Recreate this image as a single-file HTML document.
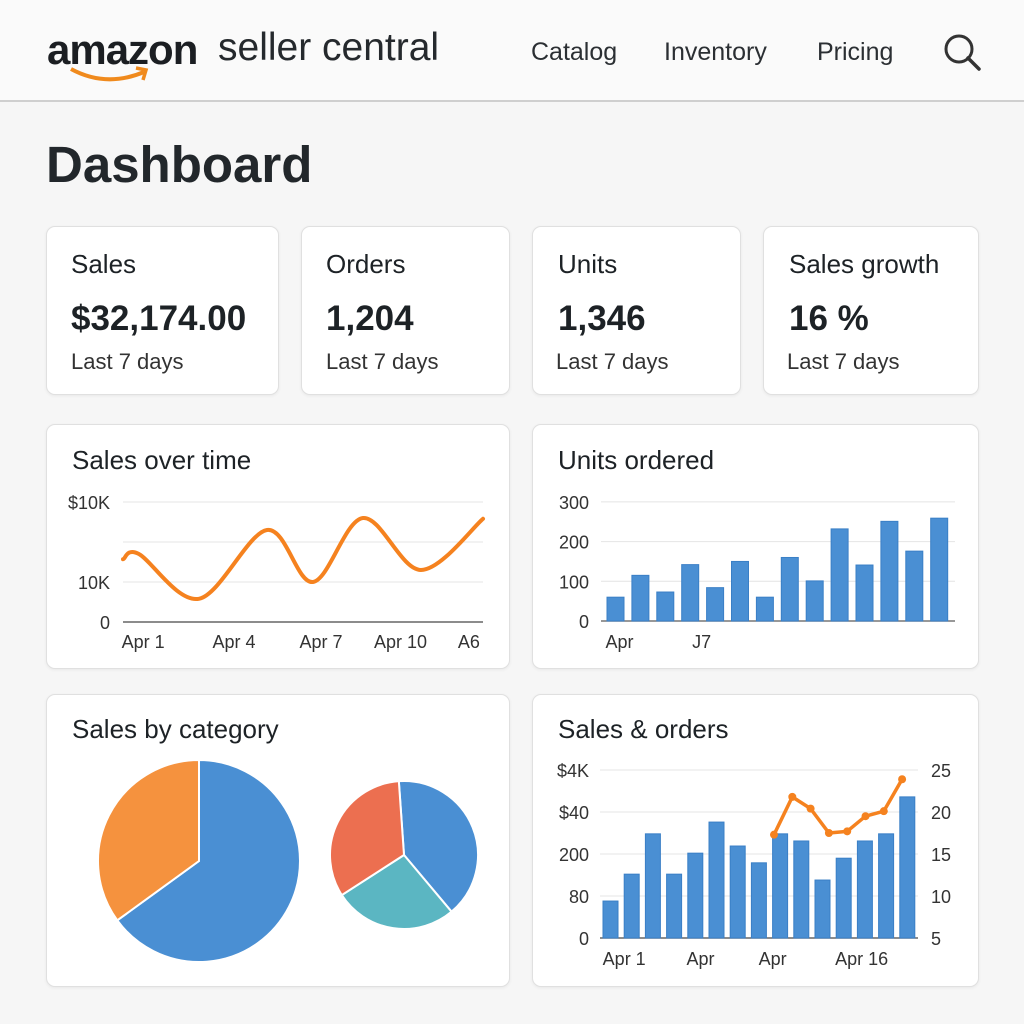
<!DOCTYPE html>
<html><head><meta charset="utf-8">
<style>
*{margin:0;padding:0;box-sizing:border-box}
body{width:1024px;height:1024px;background:#f6f6f6;font-family:"Liberation Sans","DejaVu Sans",sans-serif;color:#1d2226;position:relative;overflow:hidden}
.hdr{position:absolute;left:0;top:0;width:1024px;height:102px;background:#fafafa;border-bottom:2px solid #cfcfcf}
.abs{position:absolute;white-space:nowrap}
.card{position:absolute;background:#fff;border:1px solid #e0e0e0;border-radius:9px;box-shadow:0 1px 3px rgba(0,0,0,.06)}
.kt{font-size:26px;font-weight:500}
.kv{font-size:35px;font-weight:bold}
.kl{font-size:22px;color:#333}
svg text{font-family:"Liberation Sans","DejaVu Sans",sans-serif}
</style></head><body>
<div class="hdr">
  <div class="abs" style="left:47px;top:26px;font-size:42px;font-weight:bold;letter-spacing:-1px;color:#1b1e22">amazon</div>
  <svg class="abs" style="left:66px;top:62px" width="94" height="24"><path d="M5 7 Q40 26 78 10" stroke="#f08a1d" stroke-width="4" fill="none"/><path d="M70 6 L80 8 L77 18" stroke="#f08a1d" stroke-width="3.5" fill="none"/></svg>
  <div class="abs" style="left:218px;top:26px;font-size:39px;color:#25292d">seller central</div>
  <div class="abs" style="left:531px;top:38px;font-size:25px;color:#2b2f33">Catalog</div>
  <div class="abs" style="left:664px;top:38px;font-size:25px;color:#2b2f33">Inventory</div>
  <div class="abs" style="left:817px;top:38px;font-size:25px;color:#2b2f33">Pricing</div>
  <svg class="abs" style="left:940px;top:30px" width="46" height="46"><circle cx="19" cy="19" r="13" stroke="#333" stroke-width="3" fill="none"/><line x1="28" y1="28" x2="39" y2="39" stroke="#333" stroke-width="3.5" stroke-linecap="round"/></svg>
</div>
<div class="abs" style="left:46px;top:135px;font-size:51px;font-weight:bold;color:#22272b">Dashboard</div>

<div class="card" style="left:46px;top:226px;width:233px;height:169px">
  <div class="abs kt" style="left:24px;top:22px">Sales</div><div class="abs kv" style="left:24px;top:72px">$32,174.00</div><div class="abs kl" style="left:24px;top:122px">Last 7 days</div></div>
<div class="card" style="left:301px;top:226px;width:209px;height:169px">
  <div class="abs kt" style="left:24px;top:22px">Orders</div><div class="abs kv" style="left:24px;top:72px">1,204</div><div class="abs kl" style="left:24px;top:122px">Last 7 days</div></div>
<div class="card" style="left:532px;top:226px;width:209px;height:169px">
  <div class="abs kt" style="left:25px;top:22px">Units</div><div class="abs kv" style="left:25px;top:72px">1,346</div><div class="abs kl" style="left:23px;top:122px">Last 7 days</div></div>
<div class="card" style="left:763px;top:226px;width:216px;height:169px">
  <div class="abs kt" style="left:25px;top:22px">Sales growth</div><div class="abs kv" style="left:25px;top:72px">16 %</div><div class="abs kl" style="left:23px;top:122px">Last 7 days</div></div>

<div class="card" style="left:46px;top:424px;width:464px;height:245px"><div class="abs kt" style="left:25px;top:20px">Sales over time</div></div>
<div class="card" style="left:532px;top:424px;width:447px;height:245px"><div class="abs kt" style="left:25px;top:20px">Units ordered</div></div>
<div class="card" style="left:46px;top:694px;width:464px;height:293px"><div class="abs kt" style="left:25px;top:19px">Sales by category</div></div>
<div class="card" style="left:532px;top:694px;width:447px;height:293px"><div class="abs kt" style="left:25px;top:19px">Sales &amp; orders</div></div>

<svg id="charts" class="abs" style="left:0;top:0" width="1024" height="1024"></svg>

<script>
// ---- Sales over time ----
const sotDays = [0, 0.53, 2.53, 4.8, 6.33, 8, 9.93, 12];
const sotValues = [1.57, 1.7, 0.58, 2.3, 1.0, 2.6, 1.3, 2.58];
const sotYTicks = ["0", "10K", "", "$10K"];
const sotXLabels = ["Apr 1", "Apr 4", "Apr 7", "Apr 10", "A6"];
const sotXLabelDays = [0.67, 3.7, 6.6, 9.25, 11.53];
// ---- Units ordered ----
const unitsValues = [60, 115, 73, 142, 84, 150, 60, 160, 101, 232, 141, 251, 176, 259];
const unitsYTicks = [0, 100, 200, 300];
const unitsXLabels = ["Apr", "J7"];
const unitsXLabelIdx = [0.5, 3.8];
// ---- Sales by category ----
const pieLeftShares = [65, 35];
const pieRightShares = [40, 27, 33];
// ---- Sales & orders ----
const soBars = [0.88, 1.52, 2.48, 1.52, 2.02, 2.76, 2.19, 1.79, 2.48, 2.31, 1.38, 1.9, 2.31, 2.48, 3.36];
const soLine = [17.3, 21.8, 20.4, 17.5, 17.7, 19.5, 20.1, 23.9];
const soLeftTicks = ["0", "80", "200", "$40", "$4K"];
const soRightTicks = [5, 10, 15, 20, 25];
const soXLabels = ["Apr 1", "Apr", "Apr", "Apr 16"];
const soXLabelIdx = [1, 4.6, 8.0, 12.2];

const NS = "http://www.w3.org/2000/svg";
const svg = document.getElementById("charts");
function mk(tag, attrs, txt){const e=document.createElementNS(NS,tag);for(const k in attrs)e.setAttribute(k,attrs[k]);if(txt!==undefined)e.textContent=txt;svg.appendChild(e);return e;}

// Sales over time
const sx = d => 123 + d/12*360;
const sy = v => 622 - v*40;
sotYTicks.forEach((t,i)=>{
  const g=mk("line",{x1:123,x2:483,y1:sy(i),y2:sy(i),stroke:i?"#e4e4e4":"#666","stroke-width":i?1:1.5});
  
  
  if(t){const l=mk("text",{x:110,y:sy(i)+7,"text-anchor":"end","font-size":18,fill:"#333"},t);
  
  }
});
sotXLabels.forEach((t,i)=>{const l=mk("text",{x:sx(sotXLabelDays[i]),y:648,"text-anchor":"middle","font-size":18,fill:"#333"},t);
  
  });
{
  const p=sotDays.map((d,i)=>[sx(d),sy(sotValues[i])]);
  let d="M"+p[0][0]+" "+p[0][1];
  for(let i=0;i<p.length-1;i++){
    const p0=p[i-1]||p[i],p1=p[i],p2=p[i+1],p3=p[i+2]||p2;
    const c1=[p1[0]+(p2[0]-p0[0])/6,p1[1]+(p2[1]-p0[1])/6];
    const c2=[p2[0]-(p3[0]-p1[0])/6,p2[1]-(p3[1]-p1[1])/6];
    if(i===0){c1[1]=p1[1];} 
    d+=` C${c1[0]} ${c1[1]} ${c2[0]} ${c2[1]} ${p2[0]} ${p2[1]}`;
  }
  const line=mk("path",{d:d,stroke:"#f5821f","stroke-width":4,fill:"none","stroke-linecap":"round"});
  
  
}

// Units ordered
const ux = i => 607 + i*24.9;
const uy = v => 621 - v*0.397;
unitsYTicks.forEach(t=>{
  const g=mk("line",{x1:601,x2:955,y1:uy(t),y2:uy(t),stroke:t?"#e4e4e4":"#777","stroke-width":t?1:1.5});
  
  
  const l=mk("text",{x:589,y:uy(t)+7,"text-anchor":"end","font-size":18,fill:"#333"},String(t));
  
  
});
unitsValues.forEach((v,i)=>{
  const b=mk("rect",{x:ux(i),y:uy(v),width:17,height:621-uy(v),fill:"#4a8fd3",stroke:"#3a7fc6","stroke-width":1});
  
  
});
unitsXLabels.forEach((t,i)=>{const l=mk("text",{x:ux(unitsXLabelIdx[i]),y:648,"text-anchor":"middle","font-size":18,fill:"#333"},t);
  
  });

// Pies
function pie(cx,cy,r,shares,colors,startDeg,name){
  const tot=shares.reduce((a,b)=>a+b,0);let a=startDeg*Math.PI/180;
  shares.forEach((s,i)=>{
    const a2=a+s/tot*2*Math.PI;
    const large=(a2-a)>Math.PI?1:0;
    const d=`M${cx} ${cy} L${cx+r*Math.cos(a)} ${cy+r*Math.sin(a)} A${r} ${r} 0 ${large} 1 ${cx+r*Math.cos(a2)} ${cy+r*Math.sin(a2)} Z`;
    const sl=mk("path",{d:d,fill:colors[i],stroke:"#fff","stroke-width":2});
    
    
    a=a2;
  });
}
pie(199,861,101,pieLeftShares,["#4a8fd3","#f5923e"],-90,'left-pie-slice');
pie(404,855,74,pieRightShares,["#4a8fd3","#5bb6c2","#ec6f50"],-94,'right-pie-slice');

// Sales & orders
const bx = i => 603 + i*21.2;
const by = v => 938 - v*42;
const ry = v => 938 - (v-5)*8.4;
const lx = i => 774 + i*18.3;
soLeftTicks.forEach((t,i)=>{
  const g=mk("line",{x1:600,x2:918,y1:by(i),y2:by(i),stroke:i?"#e4e4e4":"#666","stroke-width":i?1:1.5});
  
  
  const l=mk("text",{x:589,y:by(i)+7,"text-anchor":"end","font-size":18,fill:"#333"},t);
  
  
});
soRightTicks.forEach(t=>{const l=mk("text",{x:931,y:ry(t)+7,"font-size":18,fill:"#333"},String(t));
  
  });
soBars.forEach((v,i)=>{
  const b=mk("rect",{x:bx(i),y:by(v),width:15,height:938-by(v),fill:"#4a8fd3",stroke:"#3a7fc6","stroke-width":1});
  
  
});
{
  const pl=mk("polyline",{points:soLine.map((v,i)=>lx(i)+","+ry(v)).join(" "),stroke:"#f5821f","stroke-width":3.5,fill:"none","stroke-linejoin":"round"});
  
  
  soLine.forEach((v,i)=>{const c=mk("circle",{cx:lx(i),cy:ry(v),r:4,fill:"#f5821f"});
    
    });
}
soXLabels.forEach((t,i)=>{const l=mk("text",{x:bx(soXLabelIdx[i]),y:965,"text-anchor":"middle","font-size":18,fill:"#333"},t);
  
  });
</script>
</body></html>
